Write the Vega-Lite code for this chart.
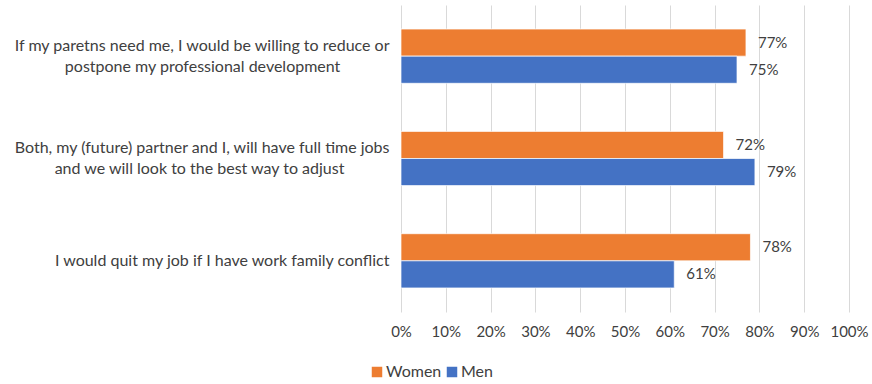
{
  "$schema": "https://vega.github.io/schema/vega-lite/v6.json",
  "width": 448,
  "height": 307,
  "autosize": "none",
  "padding": {"left": 401, "top": 5, "right": 23, "bottom": 72},
  "background": "white",
  "config": {
    "font": "Lato",
    "view": {"stroke": null},
    "axis": {"labelFont": "Lato", "labelColor": "#404040", "labelFontSize": 16}
  },
  "data": {
    "values": [
      {"q": "If my paretns need me, I would be willing to reduce or|postpone my professional development\u00a0\u00a0\u00a0\u00a0\u00a0\u00a0\u00a0\u00a0\u00a0\u00a0\u00a0\u00a0\u200b", "gender": "Women", "value": 0.77},
      {"q": "If my paretns need me, I would be willing to reduce or|postpone my professional development\u00a0\u00a0\u00a0\u00a0\u00a0\u00a0\u00a0\u00a0\u00a0\u00a0\u00a0\u00a0\u200b", "gender": "Men", "value": 0.75},
      {"q": "Both, my (future) partner and I, will have full time jobs|and we will look to the best way to adjust\u00a0\u00a0\u00a0\u00a0\u00a0\u00a0\u00a0\u00a0\u00a0\u00a0\u00a0\u200b", "gender": "Women", "value": 0.72},
      {"q": "Both, my (future) partner and I, will have full time jobs|and we will look to the best way to adjust\u00a0\u00a0\u00a0\u00a0\u00a0\u00a0\u00a0\u00a0\u00a0\u00a0\u00a0\u200b", "gender": "Men", "value": 0.79},
      {"q": "I would quit my job if I have work family conflict", "gender": "Women", "value": 0.78},
      {"q": "I would quit my job if I have work family conflict", "gender": "Men", "value": 0.61}
    ]
  },
  "encoding": {
    "y": {
      "field": "q", "type": "nominal",
      "sort": [
        "If my paretns need me, I would be willing to reduce or|postpone my professional development\u00a0\u00a0\u00a0\u00a0\u00a0\u00a0\u00a0\u00a0\u00a0\u00a0\u00a0\u00a0\u200b",
        "Both, my (future) partner and I, will have full time jobs|and we will look to the best way to adjust\u00a0\u00a0\u00a0\u00a0\u00a0\u00a0\u00a0\u00a0\u00a0\u00a0\u00a0\u200b",
        "I would quit my job if I have work family conflict"
      ],
      "scale": {"paddingInner": 0.47, "paddingOuter": 0.235},
      "axis": {"title": null, "domain": false, "ticks": false, "tickSize": 0, "labelPadding": 12, "labelLimit": 0, "labelExpr": "split(datum.label, '|')", "labelLineHeight": 21,
        "labelOffset": {"condition": {"test": "indexof(datum.value, '|') >= 0", "value": -10.5}, "value": 0}}
    },
    "yOffset": {"field": "gender", "type": "nominal", "sort": ["Women", "Men"]},
    "x": {
      "field": "value", "type": "quantitative",
      "scale": {"domain": [0, 1], "nice": false},
      "axis": {"title": null, "format": ".0%", "values": [0, 0.1, 0.2, 0.3, 0.4, 0.5, 0.6, 0.7, 0.8, 0.9, 1], "labelOverlap": false, "labelFlush": false, "labelBound": false, "labelFontSize": 15, "domain": false, "ticks": false, "tickSize": 0, "labelPadding": 12, "grid": true, "gridColor": "#d9d9d9", "gridWidth": 1}
    }
  },
  "layer": [
    {
      "mark": {"type": "bar", "stroke": "white", "strokeWidth": 0.7},
      "encoding": {
        "color": {
          "field": "gender", "type": "nominal",
          "sort": ["Women", "Men"],
          "scale": {"domain": ["Women", "Men"], "range": ["#ED7D31", "#4472C4"]},
          "legend": {"title": null, "orient": "none", "legendX": -32, "legendY": 359, "direction": "horizontal", "symbolType": "square", "symbolSize": 110, "symbolStrokeWidth": 0, "labelFontSize": 16, "labelColor": "#404040", "labelFont": "Lato", "columnPadding": 2, "labelOffset": 1}
        }
      }
    },
    {
      "mark": {"type": "text", "align": "left", "dx": 12, "fontSize": 15, "color": "#404040", "font": "Lato"},
      "encoding": {
        "text": {"field": "value", "type": "quantitative", "format": ".0%"}
      }
    }
  ]
}
